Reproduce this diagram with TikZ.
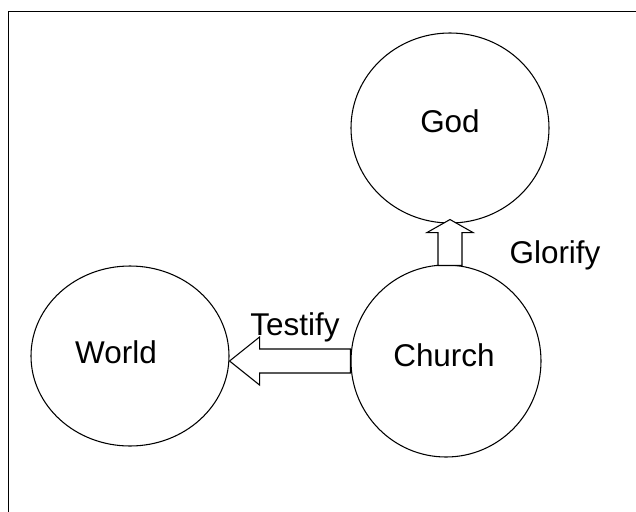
\documentclass[tikz,border=0pt]{standalone}
\usepackage{fontspec}
\setmainfont{Liberation Sans}
\usetikzlibrary{shapes.geometric,calc}
\begin{document}
\begin{tikzpicture}[x=0.75pt,y=-0.75pt,
  circ/.style={draw, ellipse, line width=0.8pt, inner sep=0pt},
  lbl/.style={anchor=base, inner sep=0pt, font=\fontsize{23.6}{28}\selectfont},
  blockarrow/.style={draw, line width=0.8pt, fill=white, line join=miter}]
\useasboundingbox (0,0) rectangle (636,511);
\clip (0,0) rectangle (636,511);
\node[draw, line width=1pt, anchor=north west, minimum width=489pt, minimum height=396.75pt, inner sep=0pt] (frame) at (8,11) {};
\node[circ, minimum width=148.5pt, minimum height=135pt] (World) at (130,356) {};
\node[circ, minimum width=148.5pt, minimum height=142.5pt] (God) at (450,128) {};
\node[circ, minimum width=142.5pt, minimum height=144pt] (Church) at (446,361) {};
% Testify arrow
\coordinate (tT) at (World.east |- Church.west);
\draw[blockarrow] (tT) -- ($(tT)+(30,-24)$) -- ($(tT)+(30,-12)$) -- ($(Church.west)+(0,-12)$)
  -- ($(Church.west)+(0,12)$) -- ($(tT)+(30,12)$) -- ($(tT)+(30,24)$) -- cycle;
% Glorify arrow
\coordinate (tG) at ($(God.south)+(0,-4)$);
\coordinate (bG) at (tG |- Church.north);
\draw[blockarrow] (tG) -- ($(tG)+(23,13)$) -- ($(tG)+(12,13)$) -- ($(bG)+(12,1)$)
  -- ($(bG)+(-12,1)$) -- ($(tG)+(-12,13)$) -- ($(tG)+(-23,13)$) -- cycle;
% labels
\node[lbl] (wl) at (116,363) {World};
\node[lbl] (gl) at (450,132) {God};
\node[lbl] (cl) at (444,366) {Church};
\node[lbl] (tl) at (295,335) {Testify};
\node[lbl] (gll) at (555,263) {Glorify};
\end{tikzpicture}
\end{document}
